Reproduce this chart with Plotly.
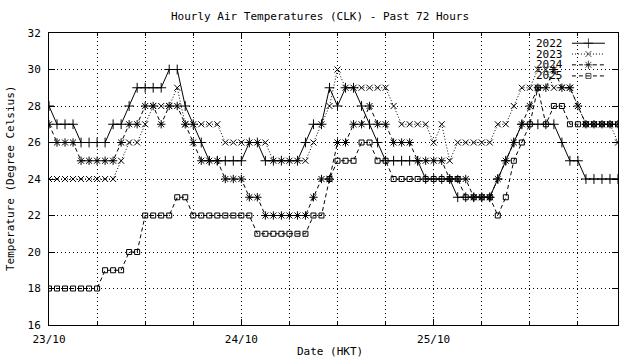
import plotly.graph_objects as go
import pandas as pd

start = "2025-10-23 00:00"
n_hours = 72
times = pd.date_range(start, periods=n_hours, freq="h")

series_names = ["2022", "2023", "2024", "2025"]

t2022 = [28, 27, 27, 27, 26, 26, 26, 26, 27, 27, 28, 29, 29, 29, 29, 30, 30, 28, 27, 26,
         25, 25, 25, 25, 25, 26, 26, 25, 25, 25, 25, 25, 26, 27, 27, 29, 28, 29, 29, 28,
         27, 26, 25, 25, 25, 25, 25, 24, 24, 24, 24, 23, 23, 23, 23, 23, 24, 25, 26, 27,
         27, 27, 27, 27, 26, 25, 25, 24, 24, 24, 24, 24]
t2023 = [24, 24, 24, 24, 24, 24, 24, 24, 24, 25, 26, 26, 27, 28, 28, 28, 29, 27, 27, 27,
         27, 27, 26, 26, 26, 26, 26, 26, 25, 25, 25, 25, 25, 26, 27, 28, 30, 29, 29, 29,
         29, 29, 29, 28, 27, 27, 27, 27, 26, 27, 25, 26, 26, 26, 26, 26, 27, 27, 28, 29,
         29, 30, 30, 29, 29, 29, 28, 27, 27, 27, 27, 26]
t2024 = [27, 26, 26, 26, 25, 25, 25, 25, 25, 26, 27, 27, 28, 28, 27, 28, 28, 27, 26, 25,
         25, 25, 24, 24, 24, 23, 23, 22, 22, 22, 22, 22, 22, 23, 24, 24, 26, 26, 27, 27,
         28, 27, 27, 26, 26, 26, 25, 25, 25, 25, 24, 24, 24, 23, 23, 23, 24, 25, 26, 27,
         28, 29, 29, 30, 29, 29, 28, 27, 27, 27, 27, 27]
t2025 = [18, 18, 18, 18, 18, 18, 18, 19, 19, 19, 20, 20, 22, 22, 22, 22, 23, 23, 22, 22,
         22, 22, 22, 22, 22, 22, 21, 21, 21, 21, 21, 21, 21, 22, 22, 24, 25, 25, 25, 26,
         26, 25, 25, 24, 24, 24, 24, 24, 24, 24, 24, 24, 23, 23, 23, 23, 22, 23, 25, 26,
         27, 29, 27, 28, 28, 27, 27, 27, 27, 27, 27, 27]

y_ticks = [16, 18, 20, 22, 24, 26, 28, 30, 32]
x_tick_labels = ["23/10", "24/10", "25/10"]

FONT = "DejaVu Sans Mono"
styles = [
    dict(dash="solid", symbol="cross-thin", size=7),
    dict(dash="1px,2px", symbol="x-thin", size=6),
    dict(dash="4px,3px", symbol="asterisk", size=7),
    dict(dash="4px,3px", symbol="square-open", size=5),
]
all_series = [t2022, t2023, t2024, t2025]

fig = go.Figure()
for name, vals, st in zip(series_names, all_series, styles):
    fig.add_trace(go.Scatter(
        x=times, y=vals, name=name, mode="lines+markers",
        line=dict(color="black", width=1, dash=st["dash"]),
        marker=dict(symbol=st["symbol"], size=st["size"], color="black",
                    line=dict(color="black", width=1)),
        showlegend=False,
    ))

# legend drawn in the top-right corner (text on the left, sample on the right)
leg_rows = [0.965, 0.928, 0.891, 0.853]
for name, st, yy in zip(series_names, styles, leg_rows):
    fig.add_trace(go.Scatter(
        x=[0.919, 0.948, 0.977], y=[yy, yy, yy], xaxis="x2", yaxis="y2",
        mode="lines+markers", showlegend=False, hoverinfo="skip",
        line=dict(color="black", width=1, dash=st["dash"]),
        marker=dict(symbol=st["symbol"], size=[0, st["size"], 0], color="black",
                    line=dict(color="black", width=1)),
    ))
    fig.add_annotation(x=0.907, y=yy, xref="paper", yref="paper", text=name,
                       showarrow=False, xanchor="right", yanchor="middle",
                       font=dict(family=FONT, size=11, color="black"))

t0 = times[0]
t_end = times[-1]
day_ticks = [t0 + pd.Timedelta(days=i) for i in range(len(x_tick_labels))]

W, H = 640, 360
fig.update_layout(
    width=W, height=H,
    margin=dict(l=49, r=22, t=33, b=35, autoexpand=False),
    paper_bgcolor="white", plot_bgcolor="white",
    font=dict(family=FONT, size=11, color="black"),
    title=dict(text="Hourly Air Temperatures (CLK) - Past 72 Hours",
               x=320 / W, xref="container", xanchor="center",
               y=1 - 16 / H, yref="container", yanchor="middle",
               font=dict(family=FONT, size=11, color="black")),
    xaxis=dict(
        range=[t0, t_end], tickvals=day_ticks, ticktext=x_tick_labels,
        showline=True, linecolor="black", linewidth=1, mirror="ticks",
        ticks="inside", ticklen=6, tickcolor="black", ticklabelstandoff=4,
        showgrid=True, gridcolor="black", gridwidth=1, griddash="1px,3px",
        minor=dict(dtick=6 * 3600 * 1000, showgrid=True, gridcolor="black",
                   gridwidth=1, griddash="1px,3px", ticks="inside", ticklen=3,
                   tickcolor="black"),
        zeroline=False, tickfont=dict(family=FONT, size=11), automargin=False,
    ),
    yaxis=dict(
        range=[16, 32], tickvals=y_ticks,
        showline=True, linecolor="black", linewidth=1, mirror="ticks",
        ticks="inside", ticklen=6, tickcolor="black", ticklabelstandoff=5,
        showgrid=True, gridcolor="black", gridwidth=1, griddash="1px,3px",
        zeroline=False, tickfont=dict(family=FONT, size=11), automargin=False,
    ),
    xaxis2=dict(overlaying="x", range=[0, 1], visible=False, fixedrange=True),
    yaxis2=dict(overlaying="y", range=[0, 1], visible=False, fixedrange=True),
)

fig.add_annotation(text="Date (HKT)", x=(330 - 49) / 569, y=-26 / 292,
                   xref="paper", yref="paper",
                   showarrow=False, xanchor="center", yanchor="middle",
                   font=dict(family=FONT, size=11, color="black"))
fig.add_annotation(text="Temperature (Degree Celsius)", x=-39 / 569, y=0.5,
                   xref="paper", yref="paper", textangle=-90,
                   showarrow=False, xanchor="center", yanchor="middle",
                   font=dict(family=FONT, size=11, color="black"))

fig.write_html("out.html",
               config={"displayModeBar": False},
               post_script="document.body.style.margin='0';"
                           "document.body.style.overflow='hidden';")
